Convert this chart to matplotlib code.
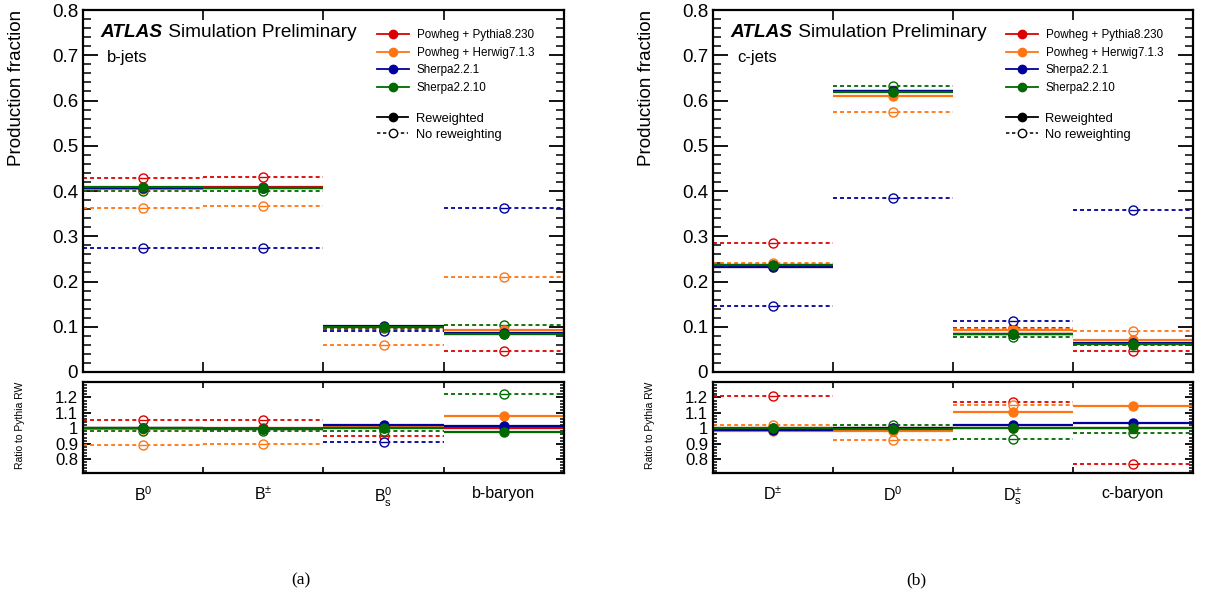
import numpy as np
import matplotlib
matplotlib.use("Agg")
import matplotlib.pyplot as plt
from matplotlib.lines import Line2D
from matplotlib.ticker import MultipleLocator, FuncFormatter, FixedLocator

plt.rcParams['font.family'] = ['Liberation Sans', 'DejaVu Sans']
plt.rcParams['mathtext.default'] = 'regular'

# categories
b_labels = ['B$^0$', 'B$^{\\pm}$', 'B$^0_s$', 'b-baryon']
c_labels = ['D$^{\\pm}$', 'D$^0$', 'D$^{\\pm}_s$', 'c-baryon']

generators = ['Powheg + Pythia8.230', 'Powheg + Herwig7.1.3', 'Sherpa2.2.1', 'Sherpa2.2.10']
colors = ['#dc0000', '#ff7512', '#00009c', '#006a00']

# b-jets, reweighted
b_pythia_rw = [0.407, 0.408, 0.099, 0.085]
b_herwig_rw = [0.404, 0.406, 0.100, 0.092]
b_sherpa221_rw = [0.407, 0.407, 0.101, 0.086]
b_sherpa2210_rw = [0.409, 0.407, 0.099, 0.083]
# b-jets, no reweighting
b_pythia_nrw = [0.428, 0.430, 0.094, 0.047]
b_herwig_nrw = [0.363, 0.366, 0.059, 0.211]
b_sherpa221_nrw = [0.273, 0.273, 0.090, 0.362]
b_sherpa2210_nrw = [0.399, 0.400, 0.097, 0.104]

# c-jets, reweighted
c_pythia_rw = [0.236, 0.620, 0.083, 0.061]
c_herwig_rw = [0.232, 0.611, 0.092, 0.070]
c_sherpa221_rw = [0.233, 0.620, 0.085, 0.063]
c_sherpa2210_rw = [0.237, 0.618, 0.083, 0.061]
# c-jets, no reweighting
c_pythia_nrw = [0.286, 0.620, 0.097, 0.047]
c_herwig_nrw = [0.241, 0.574, 0.0955, 0.091]
c_sherpa221_nrw = [0.145, 0.384, 0.113, 0.358]
c_sherpa2210_nrw = [0.234, 0.633, 0.077, 0.059]

DASH = (0, (2.2, 1.7))
LW = 1.3
MS = 6.5


def style_axis(ax, ylen, ylen_minor, xlen):
    ax.tick_params(axis='y', which='major', direction='in', length=ylen, width=1.3,
                   right=True, left=True)
    ax.tick_params(axis='y', which='minor', direction='in', length=ylen_minor, width=1.1,
                   right=True, left=True)
    ax.tick_params(axis='x', which='minor', direction='in', length=xlen, width=1.2,
                   top=True, bottom=True)
    ax.tick_params(axis='x', which='major', length=0)
    for s in ax.spines.values():
        s.set_linewidth(1.6)


def draw(ax, ax_r, labels, rw, nrw, tag, caption, cap_x):
    x = np.arange(len(labels))
    ref = np.array(rw[0])
    # no reweighting first (dashed, open markers)
    for vals, col in zip(nrw, colors):
        vals = np.array(vals)
        for a, v in ((ax, vals), (ax_r, vals / ref)):
            a.hlines(v, x - 0.5, x + 0.5, colors=col, linestyles=DASH, lw=LW)
            a.plot(x, v, 'o', mfc='white', mec=col, mew=1.0, ms=MS, ls='none')
            a.plot(x, v, '_', color=col, ms=MS - 1, mew=1.0, ls='none')
    for vals, col in zip(rw, colors):
        vals = np.array(vals)
        for a, v in ((ax, vals), (ax_r, vals / ref)):
            a.hlines(v, x - 0.5, x + 0.5, colors=col, linestyles='solid', lw=1.6)
            a.plot(x, v, 'o', color=col, ms=MS, ls='none')

    for a in (ax, ax_r):
        a.set_xlim(-0.5, len(labels) - 0.5)
        a.set_xticks(x)
        a.set_xticks(np.arange(len(labels) + 1) - 0.5, minor=True)
    ax.set_xticklabels([])
    ax_r.set_xticklabels(labels, fontsize=11.5)
    ax_r.tick_params(axis='x', which='major', pad=9)

    ax.set_ylim(0, 0.8)
    ax.yaxis.set_major_locator(MultipleLocator(0.1))
    ax.yaxis.set_minor_locator(MultipleLocator(0.02))
    ax.yaxis.set_major_formatter(FuncFormatter(lambda v, p: '%g' % round(v, 3)))
    ax.tick_params(axis='y', labelsize=13.5)
    style_axis(ax, 11, 5.5, 7)

    ax_r.set_ylim(0.71, 1.3)
    ax_r.yaxis.set_major_locator(FixedLocator([0.8, 0.9, 1.0, 1.1, 1.2]))
    ax_r.yaxis.set_minor_locator(MultipleLocator(0.02))
    ax_r.yaxis.set_major_formatter(FuncFormatter(lambda v, p: '%g' % round(v, 3)))
    ax_r.tick_params(axis='y', labelsize=12)
    style_axis(ax_r, 6, 3, 4)

    ax.set_ylabel('Production fraction', fontsize=13.5, loc='top')
    ax.yaxis.set_label_coords(-0.12, 1.0)
    ax_r.set_ylabel('Ratio to Pythia RW', fontsize=7.5, loc='top')
    ax_r.yaxis.set_label_coords(-0.12, 1.0)

    atl = ax.text(0.037, 0.939, 'ATLAS', transform=ax.transAxes, fontsize=13.7,
                  fontweight='bold', fontstyle='italic', va='center')
    ax.annotate(' Simulation Preliminary', xy=(1, 0), xycoords=atl, va='bottom',
                fontsize=13.7)
    ax.text(0.05, 0.87, tag, transform=ax.transAxes, fontsize=12, va='center')

    h1 = [Line2D([], [], color=c, lw=1.3, marker='o', ms=6) for c in colors]
    leg1 = ax.legend(h1, generators, loc='upper left', bbox_to_anchor=(0.611, 0.947),
                     frameon=False, fontsize=8.4, handlelength=2.75, handletextpad=0.65,
                     labelspacing=0.47, borderpad=0, borderaxespad=0)
    ax.add_artist(leg1)
    h2 = [Line2D([], [], color='k', lw=1.3, marker='o', ms=6),
          Line2D([], [], color='k', lw=1.1, ls=DASH, marker='o', mfc='white', ms=6)]
    ax.legend(h2, ['Reweighted', 'No reweighting'], loc='upper left',
              bbox_to_anchor=(0.611, 0.717), frameon=False, fontsize=9.3,
              handlelength=2.45, handletextpad=0.55, labelspacing=0.33,
              borderpad=0, borderaxespad=0)

    ax.figure.text(cap_x, 0.028, caption, family='Liberation Serif', fontsize=12.5,
                   ha='center', va='center')


fig = plt.figure(figsize=(12.06, 5.97), dpi=100)
axb = fig.add_axes([0.0688, 0.3769, 0.3988, 0.6063])
axb_r = fig.add_axes([0.0688, 0.2077, 0.3988, 0.1524])
axc = fig.add_axes([0.5912, 0.3769, 0.398, 0.6063])
axc_r = fig.add_axes([0.5912, 0.2077, 0.398, 0.1524])

draw(axb, axb_r, b_labels,
     [b_pythia_rw, b_herwig_rw, b_sherpa221_rw, b_sherpa2210_rw],
     [b_pythia_nrw, b_herwig_nrw, b_sherpa221_nrw, b_sherpa2210_nrw],
     'b-jets', '(a)', 0.2495)
draw(axc, axc_r, c_labels,
     [c_pythia_rw, c_herwig_rw, c_sherpa221_rw, c_sherpa2210_rw],
     [c_pythia_nrw, c_herwig_nrw, c_sherpa221_nrw, c_sherpa2210_nrw],
     'c-jets', '(b)', 0.7595)

fig.savefig('out.png', dpi=100)
